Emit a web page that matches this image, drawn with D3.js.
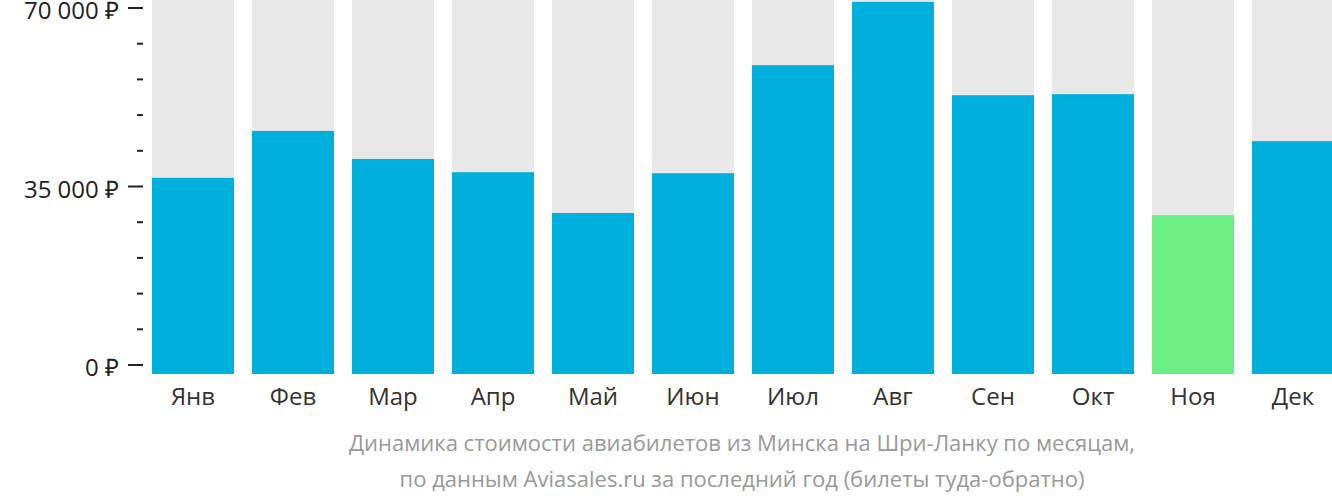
<!DOCTYPE html>
<html><head><meta charset="utf-8">
<script src="https://cdn.jsdelivr.net/npm/d3@7"></script>
<style>body{margin:0;background:#fff}svg{display:block;font-family:"Open Sans",sans-serif}</style>
</head><body><svg id="chart" width="1332" height="502"></svg>
<script>
const months = ['Янв','Фев','Мар','Апр','Май','Июн','Июл','Авг','Сен','Окт','Ноя','Дек'];
const prices = [36700, 45900, 40400, 37800, 29800, 37600, 58800, 71200, 52900, 53100, 29400, 43900];
const cheapest = 'Ноя';
const tickVals = [0, 35000, 70000];

const svg = d3.select('#chart');
const x = d3.scaleBand().domain(months).range([152, 1334]).paddingInner(0.18).paddingOuter(0);
const y = d3.scaleLinear().domain([0, 70000]).range([365, 8]);
const base = y(0) + 9;

svg.append('g').selectAll('rect').data(months).join('rect')
  .attr('x', d => x(d)).attr('width', x.bandwidth())
  .attr('y', 0).attr('height', base).attr('fill', '#e8e8e8');

svg.append('g').selectAll('rect').data(prices).join('rect')
  .attr('x', (d, i) => x(months[i])).attr('width', x.bandwidth())
  .attr('y', d => y(d)).attr('height', d => base - y(d))
  .attr('fill', (d, i) => months[i] === cheapest ? '#6cf085' : '#00b0dc');

// ticks: long at labelled values, short between
svg.append('g').selectAll('line').data(d3.range(0, 70001, 7000)).join('line')
  .attr('x1', d => tickVals.includes(d) ? 128 : 137).attr('x2', 143)
  .attr('y1', d => y(d)).attr('y2', d => y(d))
  .attr('stroke', '#222').attr('stroke-width', 2);

svg.append('g').selectAll('text').data(tickVals).join('text')
  .attr('x', 119).attr('y', d => y(d) + 3).attr('dy', '0.35em')
  .attr('text-anchor', 'end').attr('font-size', 24).attr('fill', '#222')
  .text(d => d3.format(',')(d).replace(/,/g, ' ') + ' ₽');

svg.append('g').selectAll('text').data(months).join('text')
  .attr('x', d => x(d) + x.bandwidth() / 2).attr('y', 405)
  .attr('text-anchor', 'middle').attr('font-size', 24).attr('fill', '#333')
  .text(d => d);

const cap = ['Динамика стоимости авиабилетов из Минска на Шри-Ланку по месяцам,',
             'по данным Aviasales.ru за последний год (билеты туда-обратно)'];
svg.append('g').selectAll('text').data(cap).join('text')
  .attr('x', 742).attr('y', (d, i) => 451 + i * 36)
  .attr('text-anchor', 'middle').attr('font-size', 22).attr('fill', '#999')
  .text(d => d);
</script></body></html>
